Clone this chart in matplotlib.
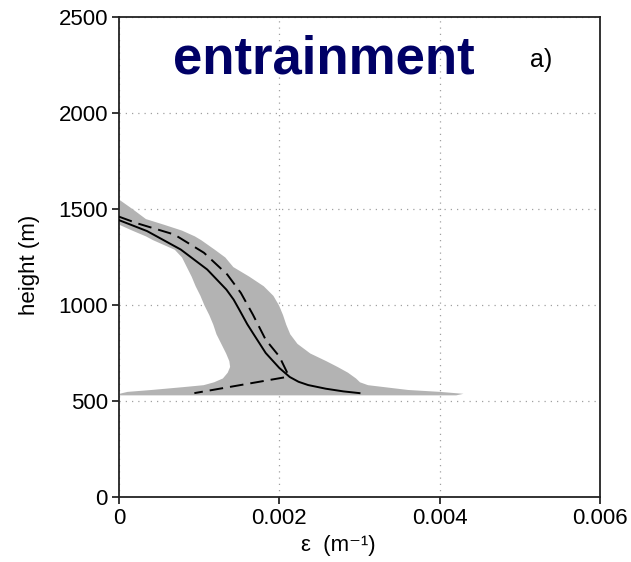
import matplotlib
matplotlib.use("Agg")
import matplotlib.pyplot as plt

plt.rcParams['font.family'] = ['Liberation Sans', 'DejaVu Sans']

# Shaded envelope: height (m) with lower / upper epsilon bounds (m^-1)
env_height = [532, 540, 550, 560, 575, 585, 600, 620, 650, 680, 710, 750, 800,
              850, 900, 950, 1000, 1050, 1100, 1150, 1200, 1250, 1290, 1340,
              1360, 1390, 1420, 1450, 1500, 1550]
env_lo = [0.0, 0.0, 0.0001, 0.0004, 0.0008, 0.00105, 0.00118, 0.00129, 0.00135,
          0.00138, 0.00137, 0.00133, 0.00127, 0.00121, 0.00117, 0.00112,
          0.00106, 0.00101, 0.00095, 0.0009, 0.00084, 0.00078, 0.00069,
          0.00042, 0.00033, 0.00016, 0.0, 0.0, 0.0, 0.0]
env_hi = [0.0042, 0.00429, 0.004, 0.0036, 0.0033, 0.0031, 0.003, 0.00295,
          0.00285, 0.00272, 0.00258, 0.00238, 0.00222, 0.00213, 0.00208,
          0.00204, 0.00199, 0.00192, 0.0018, 0.00162, 0.00142, 0.00132,
          0.00119, 0.00102, 0.00094, 0.00078, 0.00056, 0.00033, 0.00017, 0.0]

# Solid curve
solid_eps = [0.0, 0.00035, 0.00077, 0.0011, 0.00134, 0.00143, 0.0015, 0.0016,
             0.00167, 0.00183, 0.002, 0.00213, 0.00224, 0.00236, 0.00258,
             0.0028, 0.003]
solid_h = [1442, 1385, 1289, 1185, 1080, 1028, 976, 900, 854, 750, 672, 625,
           600, 583, 564, 550, 541]

# Dashed curve
dash_eps = [0.0, 0.00023, 0.00069, 0.00106, 0.00135, 0.00152, 0.00167, 0.00183,
            0.002, 0.0021, 0.00209, 0.00094]
dash_h = [1460, 1425, 1367, 1272, 1159, 1063, 950, 819, 732, 646, 625, 541]

xticks = [0, 0.002, 0.004, 0.006]
xticklabels = ["0", "0.002", "0.004", "0.006"]
yticks = [0, 500, 1000, 1500, 2000, 2500]

W, H = 631, 562
fig = plt.figure(figsize=(W / 100, H / 100), dpi=100)
ax = fig.add_axes([119 / W, 1 - 497 / H, (600 - 119) / W, (497 - 17) / H])

ax.fill_betweenx(env_height, env_lo, env_hi, color="#b3b3b3", lw=0, zorder=2)
ax.plot(solid_eps, solid_h, color="black", lw=1.4, zorder=3)
ax.plot(dash_eps, dash_h, color="black", lw=1.4, dashes=(7, 3.6), zorder=3)

ax.set_xlim(0, 0.006)
ax.set_ylim(0, 2500)
ax.set_xticks(xticks)
ax.set_xticklabels(xticklabels)
ax.set_yticks(yticks)
ax.grid(True, color="#a0a0a0", lw=0.9, linestyle=(0, (1, 4)), zorder=1)
ax.set_axisbelow(True)
ax.tick_params(direction="out", length=5, width=1.1, labelsize=16, pad=3,
               colors="black")
for s in ax.spines.values():
    s.set_linewidth(1.3)
    s.set_color("#222222")

fig.text(30 / W, 1 - 265 / H, "height (m)", rotation=90, ha="center",
         va="center", fontsize=16)
fig.text(338 / W, 1 - 545 / H, "ε  (m⁻¹)", ha="center", va="center",
         fontsize=16)
fig.text(324 / W, 1 - 73 / H, "entrainment", ha="center", va="baseline",
         fontsize=38, fontweight="bold", color="#000066")
fig.text(541 / W, 1 - 67 / H, "a)", ha="center", va="baseline", fontsize=18)

fig.savefig("out.png", dpi=100)
